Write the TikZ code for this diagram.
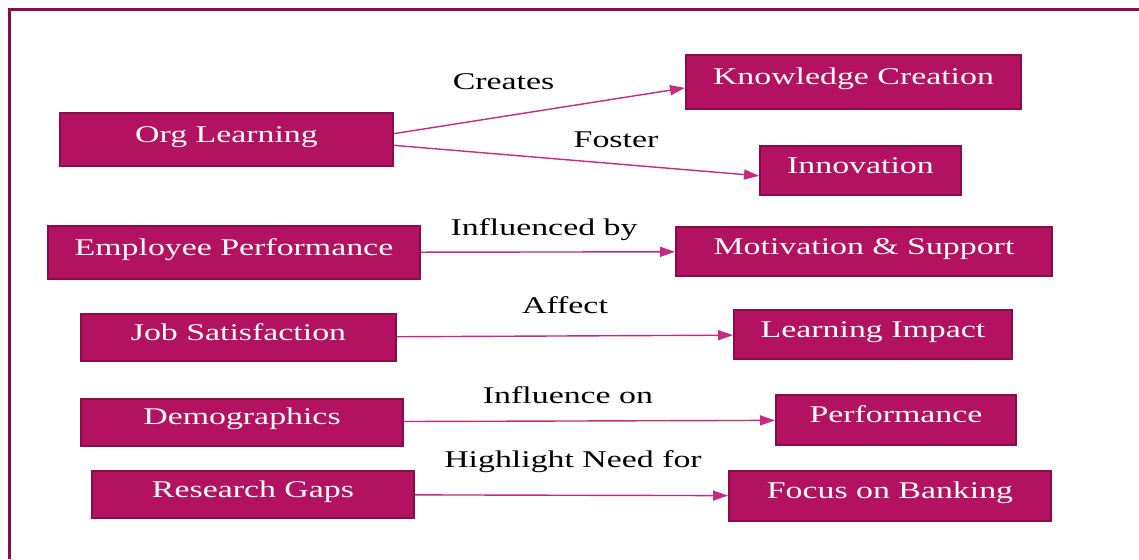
\documentclass[tikz,border=0pt]{standalone}
\usepackage{fontspec}
\setmainfont{Liberation Serif}[FakeStretch=1.41]
\usepackage{xcolor}
\usepackage{tikz}
\usetikzlibrary{arrows.meta}

\definecolor{boxfill}{HTML}{B31260}
\definecolor{boxedge}{HTML}{8A0C49}
\definecolor{linkpink}{HTML}{C62A7E}
\definecolor{framecol}{HTML}{8C0B4C}

\begin{document}
\begin{tikzpicture}[x=1pt,y=-1pt,
    concept/.style={draw=boxedge,line width=2pt,fill=boxfill,text=white,
      font=\fontsize{24pt}{28pt}\selectfont,
      text height=16pt,text depth=11pt,inner sep=0pt},
    rel/.style={anchor=base,inner sep=0pt,
      font=\fontsize{24pt}{28pt}\selectfont},
    link/.style={draw=linkpink,line width=1.4pt,
      -{Triangle[length=15pt,width=10pt]}}]
    \useasboundingbox (0,0) rectangle (1139,559);
    \draw[framecol,line width=3pt] (9.5,559) -- (9.5,9.5) -- (1139,9.5);

    % left column
    \node[concept,minimum width=333pt,minimum height=53pt] (org) at (226.5,139.5) {Org Learning};
    \node[concept,minimum width=372pt,minimum height=53pt] (emp) at (234,252.5) {Employee Performance};
    \node[concept,minimum width=315pt,minimum height=47pt] (jobsat) at (238.5,337.5) {Job Satisfaction};
    \node[concept,minimum width=322pt,minimum height=47pt] (demog) at (242,422) {Demographics};
    \node[concept,minimum width=322pt,minimum height=47pt] (gaps) at (253,494.5) {Research Gaps};

    % right column
    \node[concept,minimum width=335pt,minimum height=54pt] (know) at (853.5,82) {Knowledge Creation};
    \node[concept,minimum width=201pt,minimum height=49pt] (innov) at (860.5,170.5) {Innovation};
    \node[concept,minimum width=376pt,minimum height=49pt] (motiv) at (864,251.5) {Motivation \& Support};
    \node[concept,minimum width=278pt,minimum height=49pt] (learnimp) at (873,334.5) {Learning Impact};
    \node[concept,minimum width=240pt,minimum height=50pt] (perf) at (896,420) {Performance};
    \node[concept,minimum width=322pt,minimum height=50pt] (bank) at (890,496) {Focus on Banking};

    \draw[link] (org.2) -- (know.182);
    \draw[link] (org.-2) -- (innov.183);
    \draw[link] (emp) -- (motiv);
    \draw[link] (jobsat) -- (learnimp);
    \draw[link] (demog) -- (perf);
    \draw[link] (gaps) -- (bank);

    % relation labels
    \node[rel] (lcreates) at (503.5,90) {Creates};
    \node[rel] (lfoster) at (616,147) {Foster};
    \node[rel] (linfby) at (544,235) {Influenced by};
    \node[rel] (laffect) at (565,313) {Affect};
    \node[rel] (linfon) at (568,403) {Influence on};
    \node[rel] (lneed) at (573,467) {Highlight Need for};
\end{tikzpicture}
\end{document}
